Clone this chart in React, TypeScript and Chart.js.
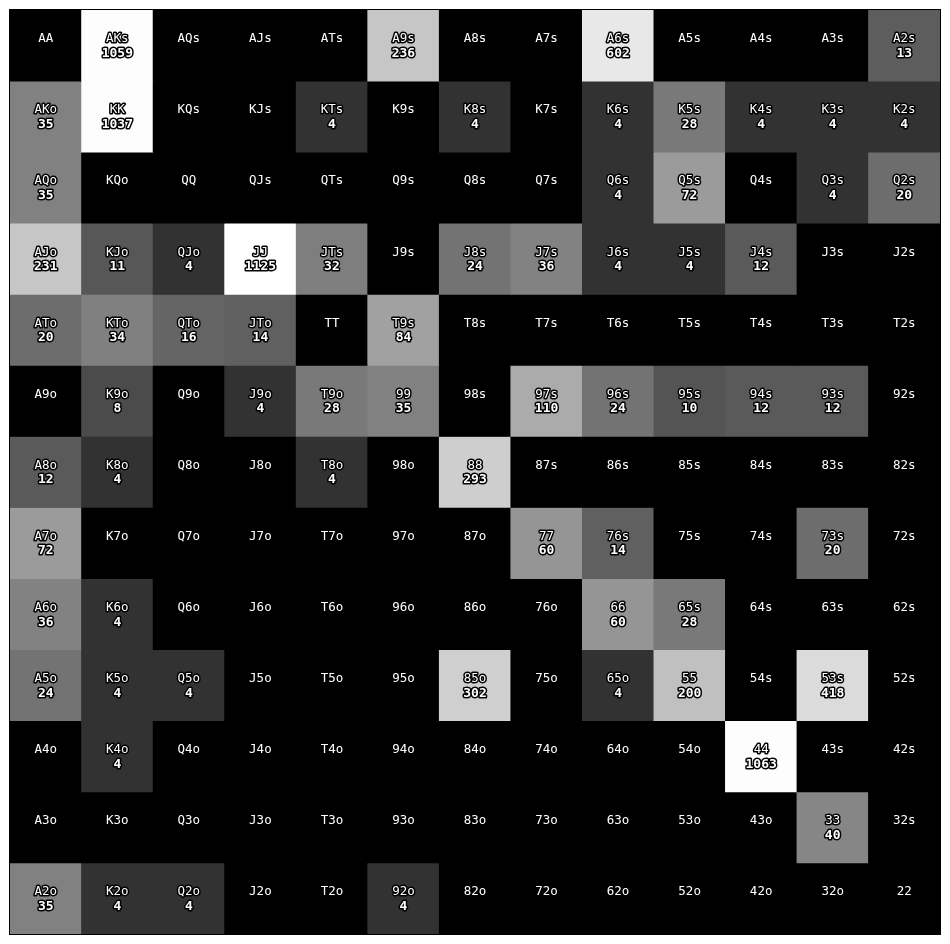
import React, { useEffect, useRef } from "react";
import { Chart, registerables } from "chart.js";

Chart.register(...registerables);

const RANKS = ["A", "K", "Q", "J", "T", "9", "8", "7", "6", "5", "4", "3", "2"];

// counts per row (row = first rank); 0 = no hands
const ROW_A = [0, 1059, 0, 0, 0, 236, 0, 0, 602, 0, 0, 0, 13];
const ROW_K = [35, 1037, 0, 0, 4, 0, 4, 0, 4, 28, 4, 4, 4];
const ROW_Q = [35, 0, 0, 0, 0, 0, 0, 0, 4, 72, 0, 4, 20];
const ROW_J = [231, 11, 4, 1125, 32, 0, 24, 36, 4, 4, 12, 0, 0];
const ROW_T = [20, 34, 16, 14, 0, 84, 0, 0, 0, 0, 0, 0, 0];
const ROW_9 = [0, 8, 0, 4, 28, 35, 0, 110, 24, 10, 12, 12, 0];
const ROW_8 = [12, 4, 0, 0, 4, 0, 293, 0, 0, 0, 0, 0, 0];
const ROW_7 = [72, 0, 0, 0, 0, 0, 0, 60, 14, 0, 0, 20, 0];
const ROW_6 = [36, 4, 0, 0, 0, 0, 0, 0, 60, 28, 0, 0, 0];
const ROW_5 = [24, 4, 4, 0, 0, 0, 302, 0, 4, 200, 0, 418, 0];
const ROW_4 = [0, 4, 0, 0, 0, 0, 0, 0, 0, 0, 1063, 0, 0];
const ROW_3 = [0, 0, 0, 0, 0, 0, 0, 0, 0, 0, 0, 40, 0];
const ROW_2 = [35, 4, 4, 0, 0, 4, 0, 0, 0, 0, 0, 0, 0];

const COUNTS = [ROW_A, ROW_K, ROW_Q, ROW_J, ROW_T, ROW_9, ROW_8, ROW_7, ROW_6, ROW_5, ROW_4, ROW_3, ROW_2];

function handLabel(r: number, c: number): string {
  if (r === c) return RANKS[r] + RANKS[c];
  if (c > r) return RANKS[r] + RANKS[c] + "s";
  return RANKS[c] + RANKS[r] + "o";
}

const MAX = Math.max(...COUNTS.map((row) => Math.max(...row)));

function cellColor(v: number): string {
  if (v <= 1) return "rgb(0,0,0)";
  const g = Math.round((255 * Math.log(v)) / Math.log(MAX));
  return `rgb(${g},${g},${g})`;
}

const FONT = '"DejaVu Sans Mono", monospace';

const labelPlugin = {
  id: "cellLabels",
  beforeDatasetsDraw(chart: any) {
    const { ctx, chartArea } = chart;
    ctx.save();
    ctx.fillStyle = "#000";
    ctx.fillRect(chartArea.left, chartArea.top, chartArea.right - chartArea.left, chartArea.bottom - chartArea.top);
    ctx.restore();
  },
  afterDatasetsDraw(chart: any) {
    const { ctx } = chart;
    const yScale = chart.scales.y;
    ctx.save();
    ctx.textAlign = "center";
    ctx.textBaseline = "middle";
    ctx.lineJoin = "round";
    COUNTS.forEach((row, r) => {
      const meta = chart.getDatasetMeta(r);
      const cy = yScale.getPixelForValue(r + 0.5);
      row.forEach((v, c) => {
        const el = meta.data[c];
        const cx = el.x;
        const label = handLabel(r, c);
        ctx.font = `12.5px ${FONT}`;
        if (v > 0) {
          ctx.strokeStyle = "#000";
          ctx.lineWidth = 3;
          ctx.strokeText(label, cx, cy - 6.5);
        }
        ctx.fillStyle = "#fff";
        ctx.fillText(label, cx, cy - 6.5);
        if (v > 0) {
          ctx.font = `bold 13px ${FONT}`;
          ctx.strokeStyle = "#000";
          ctx.lineWidth = 3;
          ctx.strokeText(String(v), cx, cy + 8);
          ctx.fillStyle = "#fff";
          ctx.fillText(String(v), cx, cy + 8);
        }
      });
    });
    ctx.restore();
  },
  afterDraw(chart: any) {
    const { ctx, chartArea } = chart;
    ctx.save();
    ctx.strokeStyle = "#000";
    ctx.lineWidth = 1;
    ctx.strokeRect(
      Math.round(chartArea.left) - 0.5,
      Math.round(chartArea.top) - 0.5,
      Math.round(chartArea.right - chartArea.left) + 1,
      Math.round(chartArea.bottom - chartArea.top) + 1
    );
    ctx.restore();
  },
};

export default function App() {
  const canvasRef = useRef<HTMLCanvasElement | null>(null);

  useEffect(() => {
    if (!canvasRef.current) return;
    const datasets = COUNTS.map((row, r) => ({
      label: RANKS[r],
      data: row.map(() => [r, r + 1] as [number, number]),
      backgroundColor: row.map((v) => cellColor(v)),
      borderWidth: 0,
      barPercentage: 1,
      categoryPercentage: 1,
      grouped: false,
    }));
    const chart = new Chart(canvasRef.current, {
      type: "bar",
      data: { labels: RANKS, datasets: datasets as any },
      options: {
        animation: false,
        responsive: true,
        maintainAspectRatio: false,
        layout: { padding: { left: 2, right: 2, top: 2, bottom: 2 } },
        plugins: { legend: { display: false }, tooltip: { enabled: false } },
        scales: {
          x: { type: "category", display: false, offset: true, grid: { display: false } },
          y: { type: "linear", display: false, min: 0, max: 13, reverse: true, grid: { display: false } },
        },
      },
      plugins: [labelPlugin],
    });
    return () => chart.destroy();
  }, []);

  return (
    <div style={{ position: "relative", width: "934px", height: "928px" }}>
      <canvas ref={canvasRef} />
    </div>
  );
}
